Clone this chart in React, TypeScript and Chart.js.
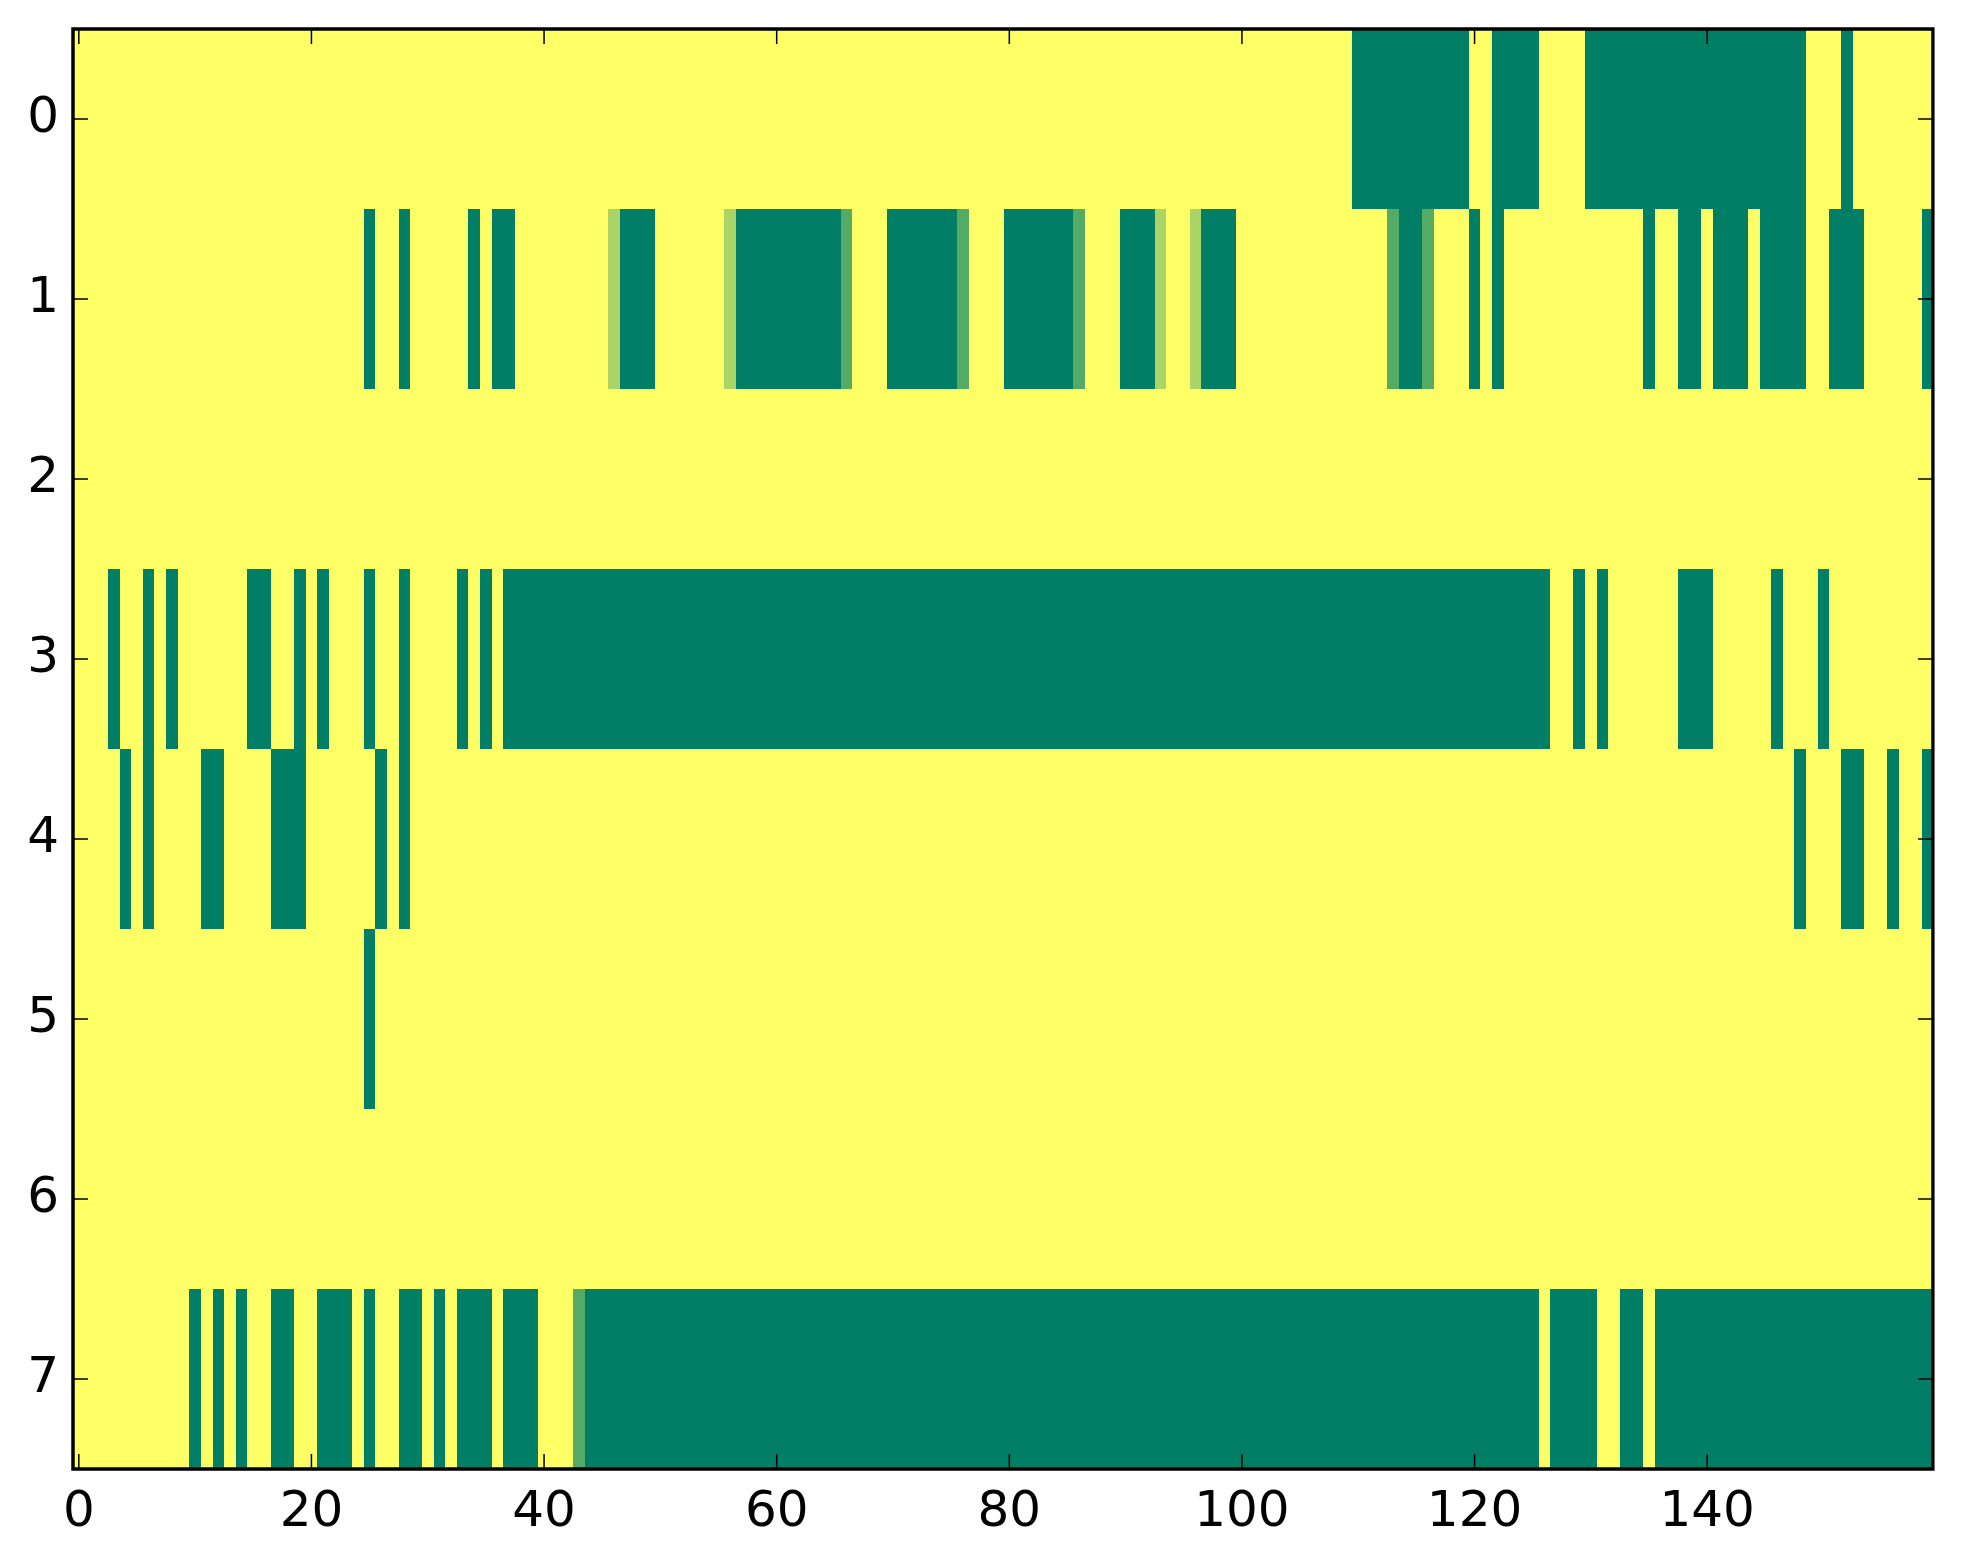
import React, { useEffect, useRef } from "react";
import { Chart, registerables } from "chart.js";

Chart.register(...registerables);

// Each run: [first column, last column, level]. Anything not listed is level 0.
const row0 = [[110, 119, 3], [122, 125, 3], [130, 148, 3], [152, 152, 3]];
const row1 = [
  [25, 25, 3], [28, 28, 3], [34, 34, 3], [36, 37, 3], [46, 46, 1], [47, 49, 3],
  [56, 56, 1], [57, 65, 3], [66, 66, 2], [70, 75, 3], [76, 76, 2], [80, 85, 3],
  [86, 86, 2], [90, 92, 3], [93, 93, 1], [96, 96, 1], [97, 99, 3], [113, 113, 2],
  [114, 115, 3], [116, 116, 2], [120, 120, 3], [122, 122, 3], [135, 135, 3],
  [138, 139, 3], [141, 143, 3], [145, 148, 3], [151, 153, 3], [159, 159, 3],
];
const row2: number[][] = [];
const row3 = [
  [3, 3, 3], [6, 6, 3], [8, 8, 3], [15, 16, 3], [19, 19, 3], [21, 21, 3], [25, 25, 3],
  [28, 28, 3], [33, 33, 3], [35, 35, 3], [37, 126, 3], [129, 129, 3], [131, 131, 3],
  [138, 140, 3], [146, 146, 3], [150, 150, 3],
];
const row4 = [
  [4, 4, 3], [6, 6, 3], [11, 12, 3], [17, 19, 3], [26, 26, 3], [28, 28, 3],
  [148, 148, 3], [152, 153, 3], [156, 156, 3], [159, 159, 3],
];
const row5 = [[25, 25, 3]];
const row6: number[][] = [];
const row7 = [
  [10, 10, 3], [12, 12, 3], [14, 14, 3], [17, 18, 3], [21, 23, 3], [25, 25, 3],
  [28, 29, 3], [31, 31, 3], [33, 35, 3], [37, 39, 3], [43, 43, 2], [44, 125, 3],
  [127, 130, 3], [133, 134, 3], [136, 159, 3],
];
const rows = [row0, row1, row2, row3, row4, row5, row6, row7];

const rowLabels = ["0", "1", "2", "3", "4", "5", "6", "7"];
const xTicks = [0, 20, 40, 60, 80, 100, 120, 140];
const columnCount = 160;
const levelColors = ["#FFFF66", "#AAD466", "#55AA66", "#007F66"];

const FONT = { family: "'DejaVu Sans'", size: 50 };

function buildDatasets() {
  const base = {
    label: "level 0",
    order: 1,
    data: rows.map(() => [-0.5, columnCount - 0.5]),
    backgroundColor: levelColors[0],
  };
  const maxRuns = Math.max(...rows.map((r) => r.length));
  const sets: any[] = [base];
  for (let k = 0; k < maxRuns; k++) {
    sets.push({
      label: `run ${k}`,
      order: 0,
      data: rows.map((r) => (r[k] ? [r[k][0] - 0.5, r[k][1] + 0.5] : null)),
      backgroundColor: rows.map((r) => (r[k] ? levelColors[r[k][2]] : "transparent")),
    });
  }
  return sets;
}

const snapCells = {
  id: "snapCells",
  afterDatasetsUpdate(chart: any) {
    chart.data.datasets.forEach((_: any, i: number) => {
      chart.getDatasetMeta(i).data.forEach((el: any) => {
        el.x = Math.round(el.x);
        el.base = Math.round(el.base);
        el.y = Math.round(el.y);
      });
    });
  },
};

const frameAndTicks = {
  id: "frameAndTicks",
  afterDatasetsDraw(chart: any) {
    const { ctx, chartArea: a, scales } = chart;
    const len = 15;
    const right = a.right - 1;
    ctx.save();
    ctx.strokeStyle = "#000";
    ctx.lineWidth = 1.5;
    ctx.beginPath();
    scales.x.ticks.forEach((_: any, i: number) => {
      const p = scales.x.getPixelForTick(i);
      ctx.moveTo(p, a.top);
      ctx.lineTo(p, a.top + len);
      ctx.moveTo(p, a.bottom);
      ctx.lineTo(p, a.bottom - len);
    });
    scales.y.ticks.forEach((_: any, i: number) => {
      const p = scales.y.getPixelForTick(i);
      ctx.moveTo(a.left, p);
      ctx.lineTo(a.left + len, p);
      ctx.moveTo(right, p);
      ctx.lineTo(right - len, p);
    });
    ctx.stroke();
    ctx.lineWidth = 3.5;
    ctx.strokeRect(a.left, a.top, right - a.left, a.bottom - a.top);
    // White margin past the frame, where the last column's sliver would show
    ctx.fillStyle = "#fff";
    ctx.fillRect(right + 1.75, a.top - 2, 3, a.bottom - a.top + 4);
    ctx.restore();
  },
};

const clearScalePadding = (s: any) => {
  s.paddingTop = 0;
  s.paddingBottom = 0;
  s.paddingLeft = 0;
  s.paddingRight = 0;
};

export default function App() {
  const ref = useRef<HTMLCanvasElement>(null);
  useEffect(() => {
    const chart = new Chart(ref.current as HTMLCanvasElement, {
      type: "bar",
      data: { labels: rowLabels, datasets: buildDatasets() },
      plugins: [snapCells, frameAndTicks],
      options: {
        indexAxis: "y",
        animation: false,
        responsive: false,
        devicePixelRatio: 1,
        layout: { padding: { top: 29, right: 29, left: 0, bottom: 0 } },
        datasets: {
          bar: {
            grouped: false,
            barPercentage: 1,
            categoryPercentage: 1,
            inflateAmount: 0,
            borderWidth: 0,
          },
        },
        plugins: { legend: { display: false }, tooltip: { enabled: false }, title: { display: false } },
        scales: {
          x: {
            type: "linear",
            position: "bottom",
            min: -0.5,
            max: columnCount - 0.5,
            grid: { display: false, drawTicks: false },
            border: { display: false },
            ticks: { color: "#000", font: FONT, padding: 14, maxRotation: 0, autoSkip: false },
            afterBuildTicks: (s: any) => {
              s.ticks = xTicks.map((v) => ({ value: v }));
            },
            afterFit: (s: any) => {
              s.height = 95;
              clearScalePadding(s);
            },
          },
          y: {
            type: "category",
            offset: true,
            grid: { display: false, drawTicks: false },
            border: { display: false },
            ticks: { color: "#000", font: FONT, padding: 14, autoSkip: false },
            afterFit: (s: any) => {
              s.width = 73;
              clearScalePadding(s);
            },
          },
        },
      } as any,
    });
    return () => chart.destroy();
  }, []);
  return (
    <canvas
      ref={ref}
      width={1963}
      height={1564}
      style={{ position: "absolute", left: 0, top: 0, width: 1963, height: 1564, display: "block" }}
    />
  );
}
